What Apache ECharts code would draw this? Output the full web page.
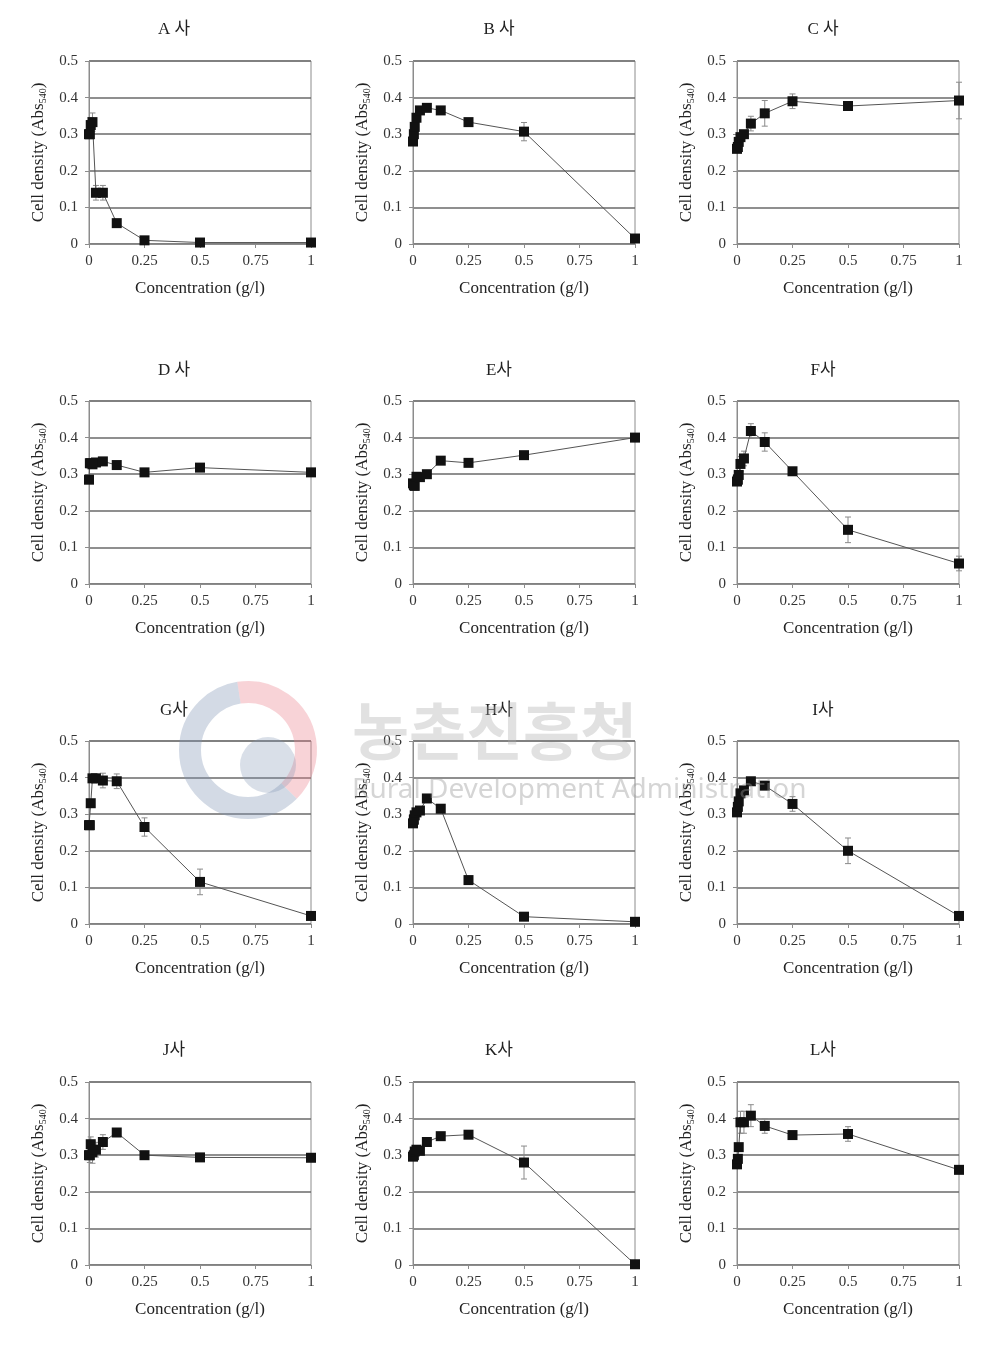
<!DOCTYPE html>
<html>
<head>
<meta charset="utf-8">
<script src="https://cdn.jsdelivr.net/npm/echarts@6/dist/echarts.min.js"></script>
<style>
html,body{margin:0;padding:0;background:#fff;}
#chart{width:1002px;height:1347px;}
</style>
</head>
<body>
<div id="chart"></div>
<script>
// ---- data ----
const conc = [0, 0.00390625, 0.0078125, 0.015625, 0.03125, 0.0625, 0.125, 0.25, 0.5, 1];
const xTicks = [0, 0.25, 0.5, 0.75, 1];
const yTicks = [0, 0.1, 0.2, 0.3, 0.4, 0.5];
const titles = ['A 사', 'B 사', 'C 사', 'D 사', 'E사', 'F사', 'G사', 'H사', 'I사', 'J사', 'K사', 'L사'];

const valA = [0.30, 0.30, 0.325, 0.333, 0.14, 0.14, 0.057, 0.010, 0.004, 0.004];
const valB = [0.28, 0.30, 0.32, 0.345, 0.365, 0.372, 0.365, 0.333, 0.307, 0.015];
const valC = [0.26, 0.265, 0.279, 0.292, 0.30, 0.329, 0.357, 0.39, 0.377, 0.392];
const valD = [0.285, 0.33, 0.33, 0.327, 0.332, 0.335, 0.325, 0.305, 0.318, 0.305];
const valE = [0.275, 0.27, 0.268, 0.293, 0.292, 0.30, 0.337, 0.331, 0.352, 0.40];
const valF = [0.28, 0.285, 0.298, 0.328, 0.343, 0.418, 0.388, 0.308, 0.148, 0.056];
const valG = [0.27, 0.27, 0.33, 0.398, 0.398, 0.392, 0.39, 0.265, 0.115, 0.022];
const valH = [0.275, 0.285, 0.297, 0.305, 0.31, 0.343, 0.315, 0.12, 0.02, 0.006];
const valI = [0.305, 0.32, 0.335, 0.357, 0.365, 0.39, 0.378, 0.328, 0.20, 0.022];
const valJ = [0.30, 0.30, 0.33, 0.308, 0.315, 0.336, 0.362, 0.30, 0.294, 0.293];
const valK = [0.296, 0.30, 0.31, 0.315, 0.312, 0.336, 0.352, 0.356, 0.28, 0.002];
const valL = [0.275, 0.29, 0.322, 0.39, 0.39, 0.408, 0.38, 0.355, 0.358, 0.26];

const errA = [0.01, 0.01, 0.02, 0.025, 0.02, 0.02, 0.01, 0.005, 0, 0];
const errB = [0.01, 0.01, 0.01, 0.01, 0.01, 0.01, 0.01, 0.01, 0.025, 0.005];
const errC = [0.01, 0.01, 0.01, 0.01, 0.01, 0.02, 0.035, 0.02, 0.01, 0.05];
const errD = [0.01, 0.01, 0.01, 0.01, 0.01, 0.01, 0.01, 0.01, 0.01, 0.01];
const errE = [0.01, 0.01, 0.01, 0.01, 0.01, 0.01, 0.01, 0.01, 0.01, 0.01];
const errF = [0.01, 0.01, 0.01, 0.02, 0.02, 0.02, 0.025, 0.01, 0.035, 0.02];
const errG = [0.01, 0.01, 0.01, 0.01, 0.01, 0.02, 0.02, 0.025, 0.035, 0.005];
const errH = [0.01, 0.01, 0.01, 0.01, 0.01, 0.01, 0.01, 0.01, 0.005, 0.005];
const errI = [0.01, 0.01, 0.01, 0.01, 0.01, 0.01, 0.01, 0.02, 0.035, 0.005];
const errJ = [0.01, 0.02, 0.02, 0.03, 0.02, 0.02, 0.01, 0.005, 0.01, 0.005];
const errK = [0.01, 0.01, 0.01, 0.01, 0.01, 0.01, 0.01, 0.01, 0.045, 0.005];
const errL = [0.01, 0.01, 0.01, 0.03, 0.03, 0.03, 0.02, 0.01, 0.02, 0.005];

const allVals = [valA, valB, valC, valD, valE, valF, valG, valH, valI, valJ, valK, valL];
const allErrs = [errA, errB, errC, errD, errE, errF, errG, errH, errI, errJ, errK, errL];

// ---- layout ----
const colLeft = [89, 413, 737];
const rowTop = [61, 401, 741, 1082];
const plotW = 222, plotH = 183;
const titleX = [169, 494, 818];
const titleY = [16, 357, 697, 1037];
const FONT = '"Liberation Serif", "Times New Roman", "Noto Sans CJK KR", serif';

const grids = [], xAxes = [], yAxes = [], series = [], titleArr = [];
for (let i = 0; i < 12; i++) {
  const r = Math.floor(i / 3), c = i % 3;
  grids.push({left: colLeft[c], top: rowTop[r], width: plotW, height: plotH,
    show: true, borderColor: '#8c8c8c', borderWidth: 1, backgroundColor: 'transparent'});
  titleArr.push({text: titles[i], left: titleX[c], top: titleY[r], textAlign: 'center',
    textStyle: {fontFamily: FONT, fontSize: 17, fontWeight: 'normal', color: '#222'}});
  xAxes.push({gridIndex: i, type: 'value', min: xTicks[0], max: xTicks[xTicks.length - 1], interval: 0.25,
    axisLine: {show: true, onZero: false, lineStyle: {color: '#8c8c8c', width: 1}},
    axisTick: {show: true, length: 4, lineStyle: {color: '#8c8c8c'}},
    axisLabel: {fontFamily: FONT, fontSize: 15, color: '#333', margin: 10,
      formatter: v => String(+v.toFixed(2))},
    splitLine: {show: false},
    name: 'Concentration (g/l)', nameLocation: 'middle', nameGap: 36,
    nameTextStyle: {fontFamily: FONT, fontSize: 17, color: '#222'}});
  yAxes.push({gridIndex: i, type: 'value', min: yTicks[0], max: yTicks[yTicks.length - 1], interval: 0.1,
    axisLine: {show: true, onZero: false, lineStyle: {color: '#8c8c8c', width: 1}},
    axisTick: {show: true, length: 4, lineStyle: {color: '#8c8c8c'}},
    axisLabel: {fontFamily: FONT, fontSize: 15, color: '#333', margin: 11,
      formatter: v => String(+v.toFixed(2))},
    splitLine: {show: true, lineStyle: {color: '#6a6a6a', width: 1.5}},
    name: '{n|Cell density (Abs}{s|540}{n|)}', nameLocation: 'middle', nameGap: 41,
    nameTextStyle: {rich: {
      n: {fontFamily: FONT, fontSize: 17, color: '#222'},
      s: {fontFamily: FONT, fontSize: 10, color: '#222', verticalAlign: 'bottom', padding: [8, 0, 0, 0]}
    }}});
  const vals = allVals[i], errs = allErrs[i];
  series.push({type: 'custom', xAxisIndex: i, yAxisIndex: i, z: 2, silent: true,
    data: conc.map((x, j) => [x, vals[j], errs[j]]),
    encode: {x: 0, y: 1},
    renderItem: function (params, api) {
      const x = api.value(0), y = api.value(1), e = api.value(2);
      const t = api.coord([x, y + e]), b = api.coord([x, Math.max(0, y - e)]);
      const st = {stroke: '#8a8a8a', lineWidth: 1};
      return {type: 'group', children: [
        {type: 'line', shape: {x1: t[0], y1: t[1], x2: b[0], y2: b[1]}, style: st},
        {type: 'line', shape: {x1: t[0] - 3, y1: t[1], x2: t[0] + 3, y2: t[1]}, style: st},
        {type: 'line', shape: {x1: b[0] - 3, y1: b[1], x2: b[0] + 3, y2: b[1]}, style: st}
      ]};
    }});
  series.push({type: 'line', xAxisIndex: i, yAxisIndex: i, z: 3,
    data: conc.map((x, j) => [x, vals[j]]),
    symbol: 'rect', symbolSize: 10,
    itemStyle: {color: '#111'},
    lineStyle: {color: '#555', width: 1}});
}

const chart = echarts.init(document.getElementById('chart'), null, {renderer: 'canvas'});
chart.setOption({
  backgroundColor: '#fff',
  animation: false,
  title: titleArr,
  grid: grids,
  xAxis: xAxes,
  yAxis: yAxes,
  series: series,
  graphic: [
    {type: 'arc', shape: {cx: 248, cy: 750, r: 58, startAngle: -Math.PI * 0.55, endAngle: Math.PI * 0.25},
      style: {stroke: 'rgba(235,130,140,0.35)', lineWidth: 22, fill: null}, z: 10, silent: true},
    {type: 'arc', shape: {cx: 248, cy: 750, r: 58, startAngle: Math.PI * 0.25, endAngle: Math.PI * 1.45},
      style: {stroke: 'rgba(130,150,180,0.35)', lineWidth: 22, fill: null}, z: 10, silent: true},
    {type: 'circle', shape: {cx: 268, cy: 765, r: 28},
      style: {fill: 'rgba(130,150,180,0.30)'}, z: 10, silent: true},
    {type: 'text', left: 352, top: 700, z: 10, silent: true,
      style: {text: '농촌진흥청', font: 'bold 62px "Noto Sans CJK KR", sans-serif', fill: 'rgba(170,170,170,0.35)'}},
    {type: 'text', left: 352, top: 776, z: 10, silent: true,
      style: {text: 'Rural Development Administration', font: '28px "Noto Sans", sans-serif', fill: 'rgba(150,150,150,0.4)'}}
  ]
});
</script>
</body>
</html>
